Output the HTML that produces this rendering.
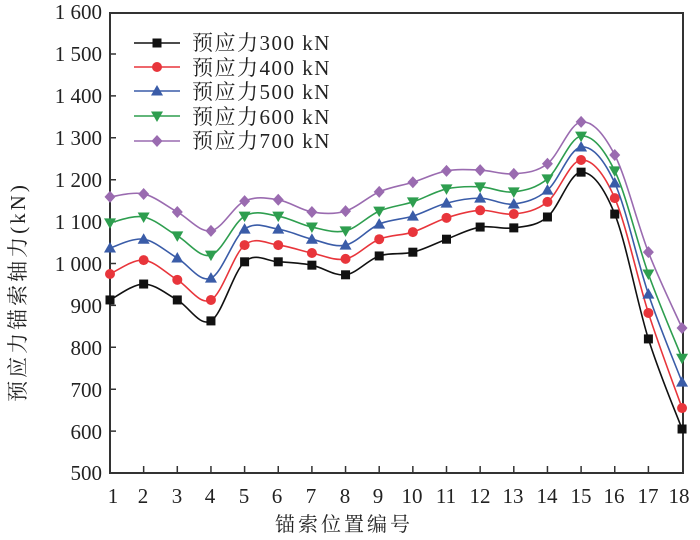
<!DOCTYPE html>
<html><head><meta charset="utf-8"><style>
html,body{margin:0;padding:0;background:#fff;}
svg{display:block;}
text{font-family:"Liberation Serif","Noto Serif CJK SC",serif;fill:#222;}
.cj{font-family:"Liberation Serif","Noto Serif CJK SC",serif;}
</style></head><body>
<svg id="s" width="700" height="540" viewBox="0 0 700 540" xmlns="http://www.w3.org/2000/svg">
<g font-size="21" text-anchor="end">
<text x="102" y="19">1 600</text>
<text x="102" y="61">1 500</text>
<text x="102" y="103">1 400</text>
<text x="102" y="145">1 300</text>
<text x="102" y="187">1 200</text>
<text x="102" y="229">1 100</text>
<text x="102" y="271">1 000</text>
<text x="102" y="313">900</text>
<text x="102" y="355">800</text>
<text x="102" y="397">700</text>
<text x="102" y="439">600</text>
<text x="102" y="480">500</text>
</g>
<g font-size="21" text-anchor="middle">
<text x="113" y="503">1</text><text x="143" y="503">2</text><text x="177" y="503">3</text><text x="210" y="503">4</text><text x="244" y="503">5</text><text x="277" y="503">6</text><text x="311" y="503">7</text><text x="345" y="503">8</text><text x="378" y="503">9</text><text x="412" y="503">10</text><text x="446" y="503">11</text><text x="480" y="503">12</text><text x="513" y="503">13</text><text x="547" y="503">14</text><text x="581" y="503">15</text><text x="614" y="503">16</text><text x="648" y="503">17</text><text x="679" y="503">18</text>
</g>
<text class="cj" x="344" y="531" font-size="20" text-anchor="middle" letter-spacing="3">锚索位置编号</text>
<text class="cj" x="0" y="0" font-size="21" text-anchor="middle" letter-spacing="3" transform="translate(25,292) rotate(-90)">预应力锚索轴力(kN)</text>
<g id="ax" stroke="#333" stroke-width="2" fill="none">
<rect x="110" y="13" width="573" height="460"/>
</g>
<g id="plot"></g>
<g font-size="21" class="cj" letter-spacing="1.5">
<text x="192" y="50">预应力300 kN</text>
<text x="192" y="75">预应力400 kN</text>
<text x="192" y="99">预应力500 kN</text>
<text x="192" y="124">预应力600 kN</text>
<text x="192" y="148">预应力700 kN</text>
</g>
</svg>
<script>
var ns="http://www.w3.org/2000/svg";
var g=document.getElementById("plot");
function el(t,a){var e=document.createElementNS(ns,t);for(var k in a)e.setAttribute(k,a[k]);g.appendChild(e);return e;}
function X(i){return 110+i*33.65;}
function Y(v){return 473-(v-500)*0.419;}
var t="";
for(var i=1;i<17;i++)t+="M"+X(i)+" 473V466";
for(var v=600;v<1600;v+=100)t+="M110 "+Y(v)+"H116";
el("path",{d:t,stroke:"#333","stroke-width":1.5,fill:"none"});
var D=[
[913,951,913,863,1004,1004,996,973,1018,1027,1058,1087,1085,1111,1218,1118,820,605],
[975,1008,961,913,1044,1044,1025,1011,1058,1075,1109,1127,1118,1147,1247,1156,882,655],
[1037,1058,1013,965,1082,1082,1058,1044,1094,1113,1144,1156,1142,1175,1278,1192,927,717],
[1097,1111,1066,1020,1113,1113,1087,1078,1125,1147,1178,1183,1171,1202,1304,1221,975,774],
[1159,1166,1123,1078,1149,1152,1123,1125,1171,1194,1221,1223,1214,1238,1338,1259,1027,846]];
var C=["#111","#e8353b","#3a5ca8","#2e9e4f","#9a6bb0"];
function marker(k,x,y){
 if(k==0)el("rect",{x:x-4.5,y:y-4.5,width:9,height:9,fill:C[k]});
 else if(k==1)el("circle",{cx:x,cy:y,r:5,fill:C[k]});
 else if(k==2)el("path",{d:"M"+x+" "+(y-6)+"L"+(x+6)+" "+(y+4.5)+"L"+(x-6)+" "+(y+4.5)+"Z",fill:C[k]});
 else if(k==3)el("path",{d:"M"+x+" "+(y+6)+"L"+(x+6)+" "+(y-4.5)+"L"+(x-6)+" "+(y-4.5)+"Z",fill:C[k]});
 else el("path",{d:"M"+x+" "+(y-6)+"L"+(x+5.5)+" "+y+"L"+x+" "+(y+6)+"L"+(x-5.5)+" "+y+"Z",fill:C[k]});
}
for(var k=0;k<5;k++){
 var p=D[k].map(function(v,i){return [X(i),Y(v)];});
 var d="M"+p[0][0]+" "+p[0][1];
 for(var i=0;i<p.length-1;i++){
  var p0=p[Math.max(i-1,0)],p1=p[i],p2=p[i+1],p3=p[Math.min(i+2,p.length-1)];
  var c1=[p1[0]+(p2[0]-p0[0])/6,p1[1]+(p2[1]-p0[1])/6];
  var c2=[p2[0]-(p3[0]-p1[0])/6,p2[1]-(p3[1]-p1[1])/6];
  d+="C"+c1[0]+" "+c1[1]+" "+c2[0]+" "+c2[1]+" "+p2[0]+" "+p2[1];
 }
 el("path",{d:d,stroke:C[k],"stroke-width":1.6,fill:"none"});
 p.forEach(function(q){marker(k,q[0],q[1]);});
 var ly=[43,67,91,116,141][k];
 el("path",{d:"M134 "+ly+"H180",stroke:C[k],"stroke-width":1.6});
 marker(k,157,ly);
}
</script>
</body></html>
